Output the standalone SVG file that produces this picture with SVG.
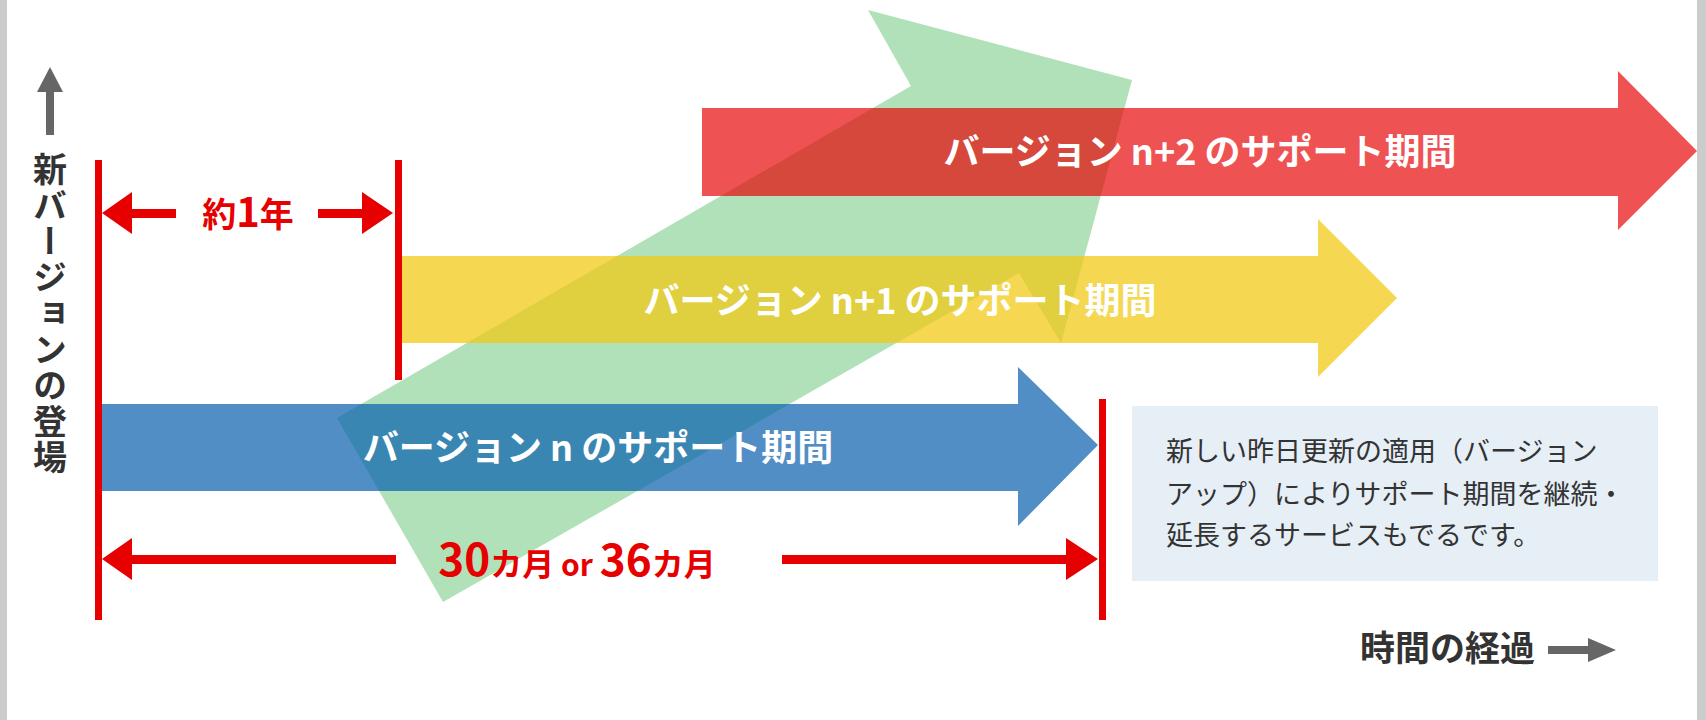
<svg xmlns="http://www.w3.org/2000/svg" width="1706" height="720" viewBox="0 0 1706 720">
<style>
.bt{font-family:"Noto Sans CJK JP","Noto Sans",sans-serif;font-weight:700;font-size:36px;fill:#fff;text-anchor:middle}
.red{fill:#e60000}
.rt{font-family:"Noto Sans CJK JP","Noto Sans",sans-serif;font-weight:700;fill:#e60000}
.gt{font-family:"Noto Sans CJK JP","Noto Sans",sans-serif;font-weight:700;fill:#333}
.nt{font-family:"Noto Sans CJK JP","Noto Sans",sans-serif;font-size:27px;fill:#333}
</style>
<rect x="0" y="0" width="1706" height="720" fill="#fff"/>
<rect x="0" y="0" width="7" height="720" fill="#ccc"/>
<rect x="1697" y="0" width="9" height="720" fill="#ccc"/>
<g id="axis-y">
<rect x="46" y="90" width="8" height="45" fill="#666"/>
<polygon points="50,67 37,92 63,92" fill="#666"/>
<text class="gt" x="50" y="152" font-size="34" style="writing-mode:vertical-rl" letter-spacing="2">新バージョンの登場</text>
</g>
<g id="green-arrow">
<polygon points="337,418 911,86 868,10 1132,80 1061,343 1019,273 443,602" fill="#b1e1b9"/>
</g>
<g id="bar-n2">
<polygon points="702,108 1618,108 1618,71 1697,151 1618,230 1618,196 702,196" fill="rgb(231,0,0)" fill-opacity="0.68"/>
<text class="bt" x="1200" y="165">バージョン n+2 のサポート期間</text>
</g>
<g id="bar-n1">
<polygon points="402,256 1318,256 1318,219 1397,298 1318,377 1318,343 402,343" fill="rgb(241,200,18)" fill-opacity="0.73"/>
<text class="bt" x="900" y="314">バージョン n+1 のサポート期間</text>
</g>
<g id="bar-n">
<polygon points="102,404 1018,404 1018,367 1098,445 1018,526 1018,491 102,491" fill="rgb(12,99,174)" fill-opacity="0.72"/>
<text class="bt" x="598" y="461">バージョン n のサポート期間</text>
</g>
<g id="connectors">
<rect x="95" y="160" width="7" height="460" class="red"/>
<rect x="395" y="160" width="7" height="220" class="red"/>
<rect x="1099" y="399" width="7" height="221" class="red"/>
<rect x="130" y="209" width="46" height="9" class="red"/>
<polygon points="102,213 132,192 132,234" class="red"/>
<rect x="318" y="209" width="46" height="9" class="red"/>
<polygon points="393,213 362,192 362,234" class="red"/>
<rect x="130" y="555" width="266" height="9" class="red"/>
<polygon points="102,559 132,538 132,580" class="red"/>
<rect x="782" y="555" width="286" height="9" class="red"/>
<polygon points="1098,559 1066,538 1066,580" class="red"/>
<rect x="1548" y="646" width="42" height="8" fill="#666"/>
<polygon points="1616,650 1588,638 1588,662" fill="#666"/>
</g>
<g id="label-1year">
<text class="rt" x="248" y="227" font-size="34" text-anchor="middle">約<tspan font-size="40">1</tspan>年</text>
</g>
<g id="label-months">
<text class="rt" x="577" y="576" text-anchor="middle"><tspan font-size="44">30</tspan><tspan font-size="32">カ月</tspan><tspan font-size="30"> or </tspan><tspan font-size="44">36</tspan><tspan font-size="32">カ月</tspan></text>
</g>
<g id="note">
<rect x="1132" y="406" width="526" height="175" fill="#e6eef6"/>
<text class="nt"><tspan x="1166" y="461">新しい昨日更新の適用（バージョン</tspan><tspan x="1166" y="504">アップ）によりサポート期間を継続・</tspan><tspan x="1166" y="545">延長するサービスもでるです。</tspan></text>
</g>
<g id="label-time">
<text class="gt" x="1360" y="661" font-size="35">時間の経過</text>
</g>
</svg>
